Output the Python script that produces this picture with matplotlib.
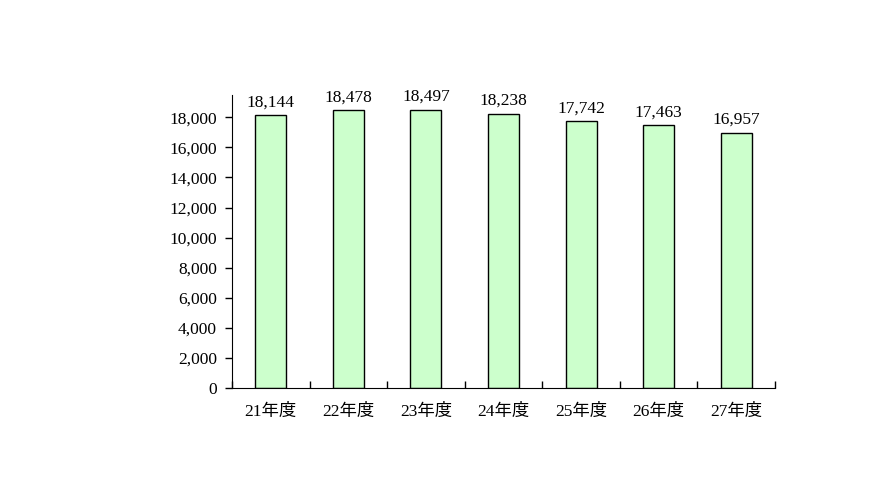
import matplotlib.pyplot as plt
from matplotlib.ticker import FuncFormatter

categories = ['21年度', '22年度', '23年度', '24年度', '25年度', '26年度', '27年度']
values = [18144, 18478, 18497, 18238, 17742, 17463, 16957]

plt.rcParams['font.family'] = ['Liberation Serif', 'Noto Sans CJK JP']

fig = plt.figure(figsize=(8.96, 5.04), dpi=100)
ax = fig.add_axes([0.259, 0.230, 0.606, 0.582])

x = list(range(len(categories)))
ax.bar(x, values, width=0.4, color='#CCFFCC', edgecolor='black', linewidth=1.0)

for xi, v in zip(x, values):
    ax.text(xi, v + 330, '{:,}'.format(v), ha='center', va='bottom', fontsize=12.5)

ax.set_xlim(-0.5, len(categories) - 0.5)
ax.set_ylim(0, 19500)
ax.set_yticks(range(0, 18001, 2000))
ax.yaxis.set_major_formatter(FuncFormatter(lambda v, p: '{:,}'.format(int(v))))

# boundary ticks between categories, labels centred under bars
ax.set_xticks([i - 0.5 for i in range(len(categories) + 1)], minor=False)
ax.set_xticklabels([])
ax.set_xticks(x, minor=True)
ax.set_xticklabels(categories, minor=True)
ax.tick_params(axis='x', which='minor', length=0, pad=11, labelsize=12.5)
ax.tick_params(axis='x', which='major', direction='in', length=5, width=1)
ax.tick_params(axis='y', direction='out', length=5, width=1, labelsize=12.5, pad=6)

ax.spines['top'].set_visible(False)
ax.spines['right'].set_visible(False)

fig.savefig('out.png', dpi=100)
